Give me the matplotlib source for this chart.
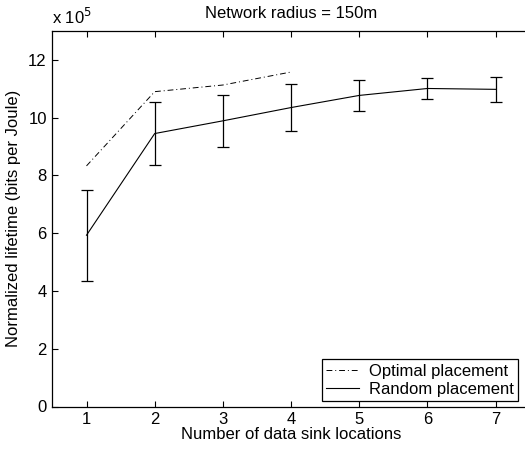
import matplotlib
matplotlib.use("Agg")
import matplotlib.pyplot as plt
from matplotlib.lines import Line2D

plt.rcParams['font.family'] = ['Liberation Sans', 'DejaVu Sans']

# lifetime values are in units of 1e5 bits per Joule
sinks = [1, 2, 3, 4, 5, 6, 7]
random_mean = [5.93, 9.45, 9.89, 10.35, 10.77, 11.01, 10.98]
random_err = [1.57, 1.10, 0.89, 0.82, 0.54, 0.38, 0.43]

opt_sinks = [1, 2, 3, 4]
opt_mean = [8.33, 10.90, 11.13, 11.58]

dashdot = (0, (6, 3, 1, 3))

fig = plt.figure(figsize=(5.25, 4.53), dpi=100)
# axes run slightly past the right edge of the figure
ax = fig.add_axes([52.4 / 525, 46.5 / 453, 477.4 / 525, 375.5 / 453])

ax.plot(opt_sinks, opt_mean, color='black', linestyle=dashdot, linewidth=0.7)
ax.errorbar(sinks, random_mean, yerr=random_err, color='black',
            linewidth=0.8, elinewidth=0.9, capsize=4, capthick=0.9)

ax.set_xlim(0.5, 7.5)
ax.set_ylim(0, 13)
ax.set_xticks(sinks)
ax.set_yticks([0, 2, 4, 6, 8, 10, 12])
ax.tick_params(direction='in', top=True, right=False, labelsize=12,
               length=4, width=0.8, pad=4)
for s in ax.spines.values():
    s.set_linewidth(0.9)
ax.spines['right'].set_visible(False)

ax.set_xlabel('Number of data sink locations', fontsize=12, labelpad=0)
ax.set_ylabel('Normalized lifetime (bits per Joule)', fontsize=12, labelpad=5)
ax.set_title('Network radius = 150m', fontsize=12, pad=9)
ax.text(0.0, 1.01, r'x 10$^5$', transform=ax.transAxes, fontsize=12,
        ha='left', va='bottom')

handles = [Line2D([], [], color='black', linestyle=dashdot, linewidth=0.7),
           Line2D([], [], color='black', linewidth=0.8)]
labels = ['Optimal placement', 'Random placement']
leg = ax.legend(handles, labels, loc='lower right',
                bbox_to_anchor=(0.976, 0.0146), borderaxespad=0,
                fontsize=12, fancybox=False, framealpha=1, edgecolor='black',
                handlelength=2.0, borderpad=0.25, labelspacing=0.2,
                handletextpad=0.6)
leg.get_frame().set_linewidth(0.9)

fig.savefig('out.png', dpi=100)
